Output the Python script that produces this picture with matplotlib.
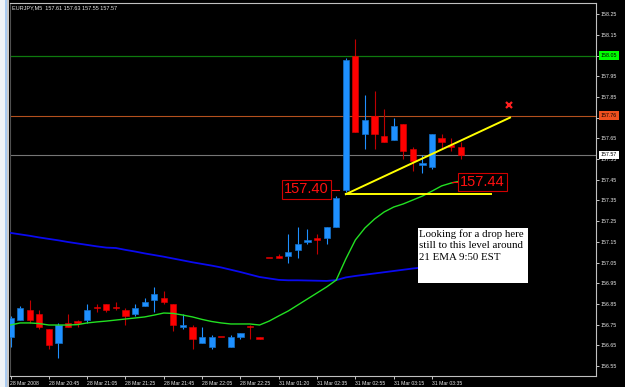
import matplotlib
matplotlib.use('Agg')
import matplotlib.pyplot as plt
import matplotlib.transforms as mtransforms
from matplotlib.patches import Rectangle
import numpy as np

plt.rcParams['font.family'] = ['Liberation Sans', 'DejaVu Sans']

# ---------------- data ----------------
symbol = "EURJPY,M5"
last_ohlc = [157.61, 157.63, 157.55, 157.57]

opens = [156.69, 156.77, 156.82, 156.80, 156.73, 156.66, 156.76, 156.76, 156.77, 156.83,
         156.85, 156.83, 156.82, 156.80, 156.84, 156.87, 156.88, 156.85, 156.74, 156.74,
         156.66, 156.64, 156.69, 156.64, 156.69, 156.74, 156.69, 157.07, 157.08, 157.08,
         157.11, 157.15, 157.17, 157.17, 157.22, 157.40, 158.05, 157.67, 157.76, 157.66,
         157.64, 157.72, 157.60, 157.52, 157.51, 157.65, 157.62, 157.61]
highs = [156.79, 156.84, 156.87, 156.82, 156.73, 156.76, 156.80, 156.77, 156.85, 156.85,
         156.85, 156.86, 156.83, 156.85, 156.88, 156.93, 156.91, 156.85, 156.80, 156.75,
         156.74, 156.70, 156.69, 156.70, 156.71, 156.75, 156.69, 157.07, 157.09, 157.19,
         157.22, 157.21, 157.19, 157.22, 157.37, 158.04, 158.13, 157.86, 157.88, 157.79,
         157.75, 157.72, 157.61, 157.57, 157.67, 157.67, 157.65, 157.63]
lows = [156.64, 156.77, 156.76, 156.73, 156.63, 156.59, 156.74, 156.74, 156.76, 156.81,
        156.81, 156.82, 156.75, 156.79, 156.84, 156.81, 156.85, 156.72, 156.73, 156.63,
        156.66, 156.63, 156.69, 156.64, 156.68, 156.68, 156.68, 157.07, 157.07, 157.05,
        157.07, 157.14, 157.09, 157.14, 157.22, 157.39, 157.68, 157.60, 157.60, 157.63,
        157.64, 157.55, 157.49, 157.48, 157.50, 157.60, 157.59, 157.55]
closes = [156.78, 156.83, 156.77, 156.74, 156.65, 156.75, 156.74, 156.76, 156.82, 156.83,
          156.82, 156.83, 156.79, 156.83, 156.86, 156.90, 156.86, 156.75, 156.75, 156.68,
          156.69, 156.69, 156.69, 156.69, 156.71, 156.74, 156.68, 157.07, 157.07, 157.10,
          157.14, 157.16, 157.16, 157.22, 157.36, 158.03, 157.68, 157.74, 157.67, 157.63,
          157.71, 157.59, 157.54, 157.53, 157.67, 157.63, 157.61, 157.57]

ema21 = [156.748, 156.758, 156.758, 156.755, 156.748, 156.748, 156.748, 156.750, 156.758, 156.763,
         156.767, 156.772, 156.777, 156.782, 156.787, 156.796, 156.806, 156.804, 156.796, 156.787,
         156.775, 156.765, 156.758, 156.753, 156.753, 156.753, 156.748, 156.767, 156.792, 156.816,
         156.845, 156.874, 156.903, 156.932, 156.965, 157.067, 157.159, 157.217, 157.260, 157.294,
         157.318, 157.333, 157.352, 157.371, 157.395, 157.420, 157.434, 157.444]
ma_slow = [157.193, 157.186, 157.179, 157.171, 157.164, 157.157, 157.149, 157.142, 157.135, 157.128,
           157.122, 157.120, 157.111, 157.103, 157.094, 157.086, 157.078, 157.069, 157.060, 157.051,
           157.043, 157.035, 157.026, 157.015, 157.004, 156.992, 156.980, 156.973, 156.966, 156.964,
           156.964, 156.963, 156.962, 156.961, 156.965, 156.978, 156.985, 156.991, 156.997, 157.003,
           157.009, 157.015, 157.021, 157.026, 157.032, 157.038, 157.043, 157.049]

xtick_pos = [0, 4, 8, 12, 16, 20, 24, 28, 32, 36, 40, 44]
xtick_labels = ["28 Mar 2008", "28 Mar 20:45", "28 Mar 21:05", "28 Mar 21:25", "28 Mar 21:45",
                "28 Mar 22:05", "28 Mar 22:25", "31 Mar 01:20", "31 Mar 02:35", "31 Mar 02:55",
                "31 Mar 03:15", "31 Mar 03:35"]
price_ticks = [158.25, 158.15, 158.05, 157.95, 157.85, 157.75, 157.65, 157.55, 157.45, 157.35,
               157.25, 157.15, 157.05, 156.95, 156.85, 156.75, 156.65, 156.55]

level_green = 158.05
level_orange = 157.76
level_bid = 157.57

trend_start = (35.0, 157.38)
trend_end = (52.14, 157.75)
flat_end_x = 50.16
x_mark = (52.05, 157.81)
label_a = ("157.40", 157.40)
label_b = ("157.44", 157.44)
note_text = "Looking for a drop here\nstill to this level around\n21 EMA 9:50 EST"

# ---------------- figure ----------------
W, H = 625, 387
fig = plt.figure(figsize=(W / 100, H / 100), dpi=100, facecolor='black')

# window border strip on the left
fig.add_artist(Rectangle((0, 0), 5 / W, 1, transform=fig.transFigure, color='#EEF2F6', lw=0))
fig.add_artist(Rectangle((5 / W, 0), 2.3 / W, 1, transform=fig.transFigure, color='#A9CBF2', lw=0))
fig.add_artist(Rectangle((7.3 / W, 0), 1.7 / W, 1, transform=fig.transFigure, color='#C8C8C8', lw=0))

px_l, px_r, px_t, px_b = 9.5, 596, 3, 376
ax = fig.add_axes([px_l / W, 1 - px_b / H, (px_r - px_l) / W, (px_b - px_t) / H])
ax.set_facecolor('black')

x0_px, step_px = 10.5, 9.58
ax.set_xlim((px_l - x0_px) / step_px, (px_r - x0_px) / step_px)
ax.set_ylim(156.55 + (366 - px_b) / 207, 156.55 + (366 - px_t) / 207)

n = len(opens)
idx = np.arange(n)
o = np.array(opens); c = np.array(closes); h = np.array(highs); l = np.array(lows)
bull = c > o

# level lines (behind candles)
ax.axhline(level_green, color='#0E7A0E', lw=0.9, zorder=1)
ax.axhline(level_orange, color='#B4501E', lw=0.8, zorder=1)
ax.axhline(level_bid, color='#767676', lw=0.8, zorder=1)

# candles
wick_col = np.where(bull, '#1E90FF', '#C00000')
ax.vlines(idx, l, h, colors=wick_col, lw=0.8, zorder=2)
body_w = 0.65
bot = np.minimum(o, c)
hgt = np.maximum(np.abs(c - o), 0.005)
ax.bar(idx[bull], hgt[bull], bottom=bot[bull], width=body_w, color='#1E90FF',
       edgecolor='#1470C8', lw=0.5, zorder=3)
ax.bar(idx[~bull], hgt[~bull], bottom=bot[~bull], width=body_w, color='#FF0000',
       edgecolor='#E00000', lw=0.4, zorder=3)

# moving averages
ax.plot(idx, ma_slow, color='#0A0AF0', lw=1.3, zorder=4)
ax.plot(idx, ema21, color='#22E022', lw=1.0, zorder=4)

# yellow trend lines
ax.plot([trend_start[0], trend_end[0]], [trend_start[1], trend_end[1]], color='#FFFF00', lw=1.4, zorder=5)
ax.plot([trend_start[0], flat_end_x], [trend_start[1], trend_start[1]], color='#FFFF00', lw=1.4, zorder=5)

# red X
ax.plot([x_mark[0]], [x_mark[1]], marker='x', color='#FF2020', ms=5, mew=1.6, zorder=6)

# price labels
fs_lab = 10.5
ax.text(33.23, label_a[1] + 0.003, label_a[0], color='#FF1010', fontsize=fs_lab, ha='right', va='center',
        bbox=dict(boxstyle='square,pad=0.15', fc='black', ec='#D00000', lw=0.8), zorder=7)
ax.plot([33.46, 34.3], [label_a[1], label_a[1]], color='#FF1010', lw=0.8, zorder=6)
ax.text(46.94, label_b[1], label_b[0], color='#FF1010', fontsize=fs_lab, ha='left', va='center',
        bbox=dict(boxstyle='square,pad=0.15', fc='black', ec='#D00000', lw=0.8), zorder=7)
ax.plot([46.05, 46.72], [label_b[1], label_b[1]], color='#FF1010', lw=0.8, zorder=6)

# note box
bx0, bx1 = (418 - x0_px) / step_px, (528 - x0_px) / step_px
by1, by0 = 156.55 + (366 - 228) / 207, 156.55 + (366 - 283) / 207
ax.add_patch(Rectangle((bx0, by0), bx1 - bx0, by1 - by0, fc='white', ec='none', zorder=8))
ax.text(bx0 + 0.1, by1 - 0.004, note_text, family=['Liberation Serif', 'DejaVu Serif'],
        fontsize=7.8, color='black', ha='left', va='top', linespacing=1.38, zorder=9)

# axes styling
for s in ax.spines.values():
    s.set_color('#C0C0C0'); s.set_linewidth(0.8)
ax.spines['left'].set_color('#505050')

# highlighted right-axis price boxes cover the regular labels beneath them
covered = {157.75, 158.05}
ax.yaxis.tick_right()
ax.set_yticks(price_ticks)
ax.set_yticklabels(["" if p in covered else f"{p:.2f}" for p in price_ticks])
ax.tick_params(axis='y', colors='#E8E8E8', labelsize=3.8, length=2.2, width=0.6, pad=1.2)
ax.set_xticks(xtick_pos)
ax.set_xticklabels(xtick_labels, ha='left')
ax.tick_params(axis='x', colors='#E8E8E8', labelsize=3.7, length=2.5, width=0.6, pad=1.0)

blend = mtransforms.blended_transform_factory(ax.transAxes, ax.transData)
xl = (601 - px_l) / (px_r - px_l)
for val, fc in [(level_green, '#00FF00'), (level_orange, '#F0501E'), (level_bid, '#FFFFFF')]:
    ax.text(xl, val, f"{val:.2f}", transform=blend, fontsize=3.8, color='black', ha='left', va='center',
            bbox=dict(boxstyle='square,pad=0.3', fc=fc, ec='none'), zorder=10, clip_on=False)

# title
fig.text(12 / W, 1 - 7.5 / H, f"{symbol}  " + " ".join(f"{v:.2f}" for v in last_ohlc),
         color='#E8E8E8', fontsize=4, ha='left', va='center')

fig.savefig('out.png', dpi=100, facecolor='black')
